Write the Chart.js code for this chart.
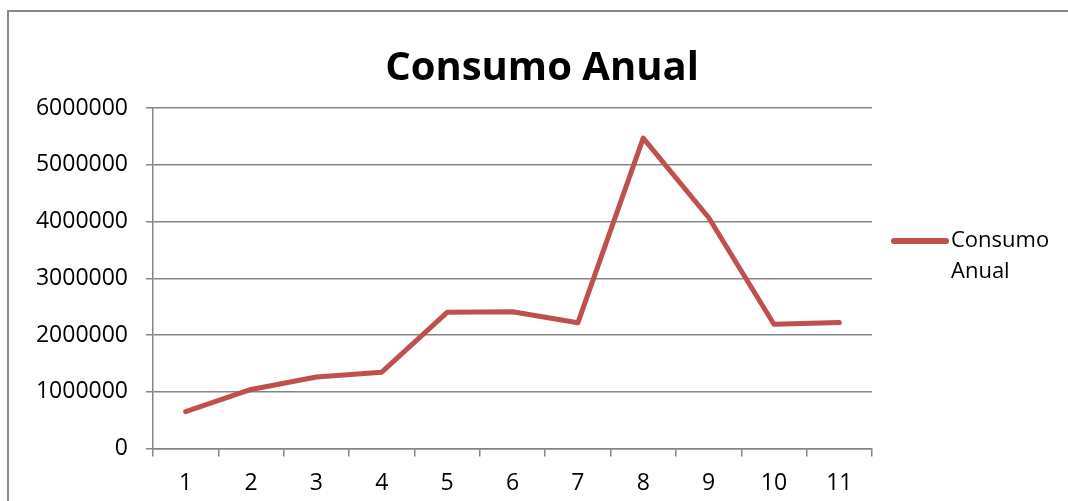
<!DOCTYPE html>
<html>
<head>
<meta charset="utf-8">
<script src="https://cdn.jsdelivr.net/npm/chart.js@4/dist/chart.umd.min.js"></script>
<style>
  html, body { margin: 0; padding: 0; background: #fff; }
  #wrap { width: 1068px; height: 501px; }
</style>
</head>
<body>
<div id="wrap"><canvas id="consumoChart"></canvas></div>
<script>
// data
const categories = ['1', '2', '3', '4', '5', '6', '7', '8', '9', '10', '11'];
const consumoAnual = [650000, 1040000, 1260000, 1345000, 2400000, 2410000, 2215000, 5470000, 4070000, 2190000, 2220000];
const yTicks = [0, 1000000, 2000000, 3000000, 4000000, 5000000, 6000000];
const seriesName = 'Consumo Anual';
const titleText = 'Consumo Anual';

const gridGray = '#858585';
const lineRed = '#C0504D';
const fontFamily = '"Open Sans", "Liberation Sans", sans-serif';

// border, title and a two-line legend, drawn like the excel chart
const framePlugin = {
    id: 'frame',
    afterDraw(chart) {
        const ctx = chart.ctx;
        ctx.save();
        ctx.strokeStyle = '#8a8a8a';
        ctx.lineWidth = 2;
        ctx.beginPath();
        ctx.moveTo(8, 501);
        ctx.lineTo(8, 11);
        ctx.lineTo(1068, 11);
        ctx.stroke();

        ctx.fillStyle = '#000';
        ctx.font = 'bold 40px ' + fontFamily;
        ctx.textAlign = 'center';
        ctx.textBaseline = 'alphabetic';
        ctx.fillText(titleText, 542, 80);

        // legend
        const ds = chart.data.datasets[0];
        ctx.strokeStyle = ds.borderColor;
        ctx.lineWidth = 6;
        ctx.lineCap = 'round';
        ctx.beginPath();
        ctx.moveTo(894, 241);
        ctx.lineTo(946, 241);
        ctx.stroke();
        ctx.font = '22px ' + fontFamily;
        ctx.textAlign = 'left';
        ctx.textBaseline = 'middle';
        const words = ds.label.split(' ');
        ctx.fillText(words[0], 951, 241);
        ctx.fillText(words[1], 951, 272);
        ctx.restore();
    }
};

const ctx = document.getElementById('consumoChart').getContext('2d');
const consumoChart = new Chart(ctx, {
    type: 'line',
    data: {
        labels: categories,
        datasets: [{
            label: seriesName,
            data: consumoAnual,
            borderColor: lineRed,
            backgroundColor: lineRed,
            borderWidth: 5,
            borderJoinStyle: 'round',
            borderCapStyle: 'round',
            pointRadius: 0,
            pointHoverRadius: 0,
            tension: 0
        }]
    },
    options: {
        responsive: true,
        maintainAspectRatio: false,
        animation: false,
        layout: {
            padding: { left: 0, right: 196, top: 108, bottom: 0 }
        },
        plugins: {
            legend: { display: false },
            title: { display: false },
            tooltip: { enabled: false }
        },
        scales: {
            x: {
                offset: true,
                grid: {
                    offset: true,
                    drawOnChartArea: false,
                    drawTicks: true,
                    tickLength: 8,
                    color: gridGray,
                    lineWidth: 1.5
                },
                border: { display: true, color: gridGray, width: 1.5 },
                ticks: {
                    color: '#000',
                    padding: 13,
                    maxRotation: 0,
                    font: { family: fontFamily, size: 23 }
                },
                afterFit(scale) { scale.height = 52.5; }
            },
            y: {
                min: 0,
                max: 6000000,
                afterBuildTicks(scale) {
                    scale.ticks = yTicks.map(v => ({ value: v }));
                },
                grid: {
                    color: gridGray,
                    lineWidth: 1.5,
                    drawTicks: true,
                    tickLength: 7
                },
                border: { display: true, color: gridGray, width: 1.5 },
                ticks: {
                    color: '#000',
                    padding: 18,
                    font: { family: fontFamily, size: 23 },
                    callback: v => String(v)
                },
                afterFit(scale) { scale.width = 153; }
            }
        }
    },
    plugins: [framePlugin]
});
</script>
</body>
</html>
